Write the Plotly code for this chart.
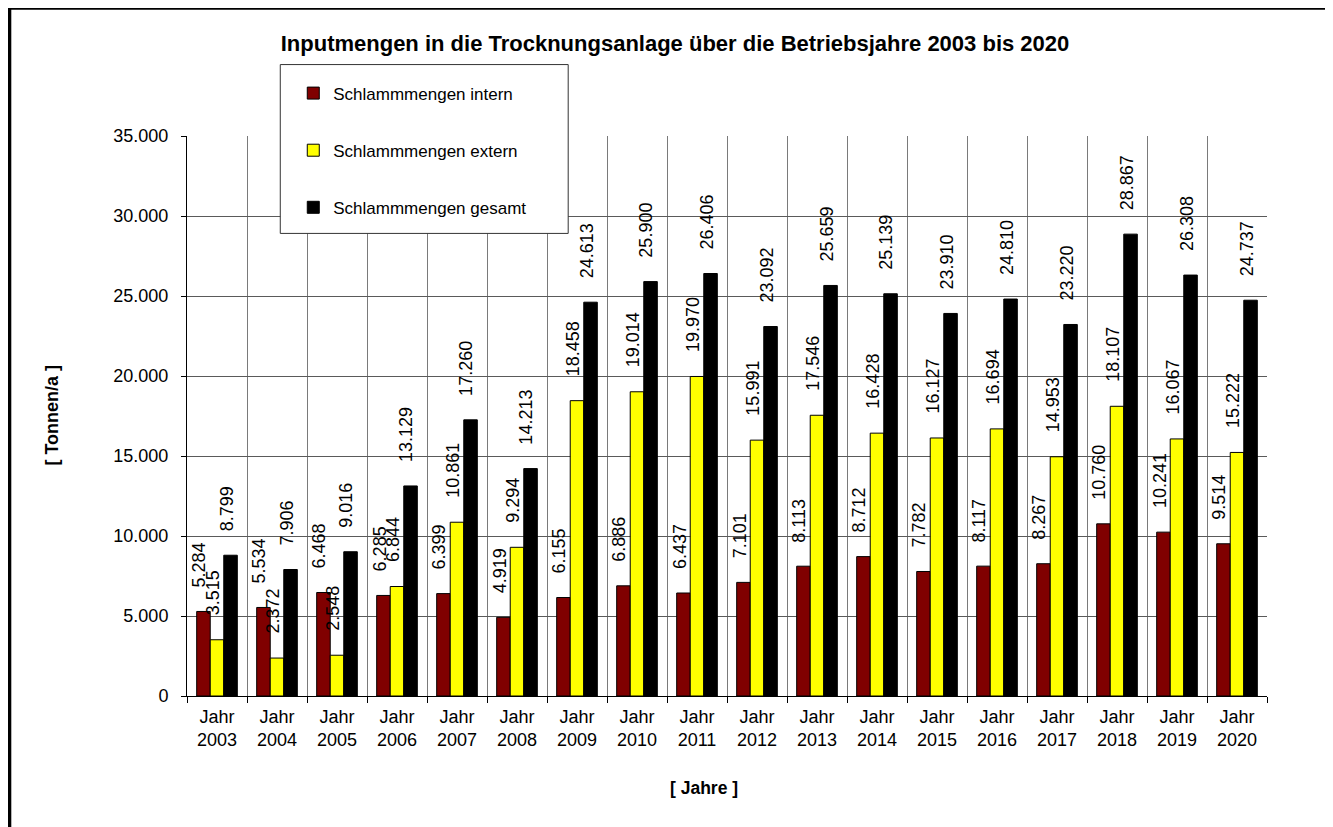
import plotly.graph_objects as go

jahre = ["Jahr<br>2003", "Jahr<br>2004", "Jahr<br>2005", "Jahr<br>2006", "Jahr<br>2007", "Jahr<br>2008",
         "Jahr<br>2009", "Jahr<br>2010", "Jahr<br>2011", "Jahr<br>2012", "Jahr<br>2013", "Jahr<br>2014",
         "Jahr<br>2015", "Jahr<br>2016", "Jahr<br>2017", "Jahr<br>2018", "Jahr<br>2019", "Jahr<br>2020"]
intern = [5284, 5534, 6468, 6285, 6399, 4919, 6155, 6886, 6437, 7101, 8113, 8712, 7782, 8117, 8267, 10760, 10241, 9514]
extern = [3515, 2372, 2548, 6844, 10861, 9294, 18458, 19014, 19970, 15991, 17546, 16428, 16127, 16694, 14953, 18107, 16067, 15222]
gesamt = [8799, 7906, 9016, 13129, 17260, 14213, 24613, 25900, 26406, 23092, 25659, 25139, 23910, 24810, 23220, 28867, 26308, 24737]
y_ticks = [0, 5000, 10000, 15000, 20000, 25000, 30000, 35000]

series = [
    ("Schlammmengen intern", intern, "#800000"),
    ("Schlammmengen extern", extern, "#FFFF00"),
    ("Schlammmengen gesamt", gesamt, "#000000"),
]

FONT = "Liberation Sans, Arial, sans-serif"
OFF = 8  # page body margin
# plot area in page coordinates
PL, PR, PT, PB = 186.7, 1267.0, 135.5, 696.0
W, H = 1333, 827
BARGAP = 0.323
cat_w = (PR - PL) / len(jahre)
bar_w = cat_w * (1 - BARGAP) / 3


def px(x):
    return (x - PL) / (PR - PL)


def py(y):
    return (PB - y) / (PB - PT)


def fmt(v):
    return f"{v:,}".replace(",", ".")


fig = go.Figure()
annotations = []
for i, (name, vals, col) in enumerate(series):
    fig.add_trace(go.Bar(
        x=jahre, y=vals, name=name, legendgroup=name,
        marker=dict(color=col, line=dict(color="black", width=1)),
    ))
    for xc, v in zip(jahre, vals):
        annotations.append(dict(
            x=xc, y=v, xref="x", yref="y", text=fmt(v), textangle=-90,
            showarrow=False, xanchor="center", yanchor="bottom",
            xshift=(i - 1) * bar_w - 4, yshift=22,
            font=dict(family=FONT, size=18, color="black"),
        ))

annotations += [
    dict(text="<b>[ Tonnen/a ]</b>", x=px(40), y=py(415), xref="paper", yref="paper",
         textangle=-90, showarrow=False, font=dict(family=FONT, size=18, color="black")),
    dict(text="<b>[ Jahre ]</b>", x=px(704), y=py(800), xref="paper", yref="paper",
         showarrow=False, font=dict(family=FONT, size=17.5, color="black")),
]

fig.update_layout(
    width=W, height=H,
    margin=dict(l=PL - OFF, r=W - (PR - OFF), t=PT - OFF, b=H - (PB - OFF)),
    paper_bgcolor="white", plot_bgcolor="white",
    separators=",.",
    barmode="group", bargap=BARGAP, bargroupgap=0,
    font=dict(family=FONT, size=18, color="black"),
    title=dict(text="<b>Inputmengen in die Trocknungsanlage über die Betriebsjahre 2003 bis 2020</b>",
               x=(675 - OFF) / W, xref="container", xanchor="center",
               y=1 - (43 - OFF) / H, yref="container", yanchor="middle",
               font=dict(family=FONT, size=22, color="black")),
    showlegend=True,
    legend=dict(x=px(293), y=py(75), xanchor="left", yanchor="top",
                bgcolor="rgba(0,0,0,0)", borderwidth=0,
                traceorder="grouped", tracegroupgap=32,
                font=dict(family=FONT, size=17, color="black")),
    xaxis=dict(type="category", tickson="boundaries", ticks="outside", ticklen=6, tickcolor="black",
               showgrid=True, gridcolor="#7a7a7a", gridwidth=1,
               showline=True, linecolor="black", linewidth=1, ticklabelstandoff=4,
               tickfont=dict(family=FONT, size=18)),
    yaxis=dict(range=[0, 35000], tickvals=y_ticks, tickformat=",d", ticks="outside", ticklen=5,
               tickcolor="black", showgrid=True, gridcolor="#5a5a5a", gridwidth=1,
               showline=True, linecolor="black", linewidth=1, zeroline=False,
               ticklabelstandoff=9, tickfont=dict(family=FONT, size=18)),
    annotations=annotations,
    shapes=[
        dict(type="rect", xref="paper", yref="paper", x0=px(9.2), x1=px(1350), y0=py(850), y1=py(7.3),
             line=dict(color="black", width=3.5), layer="below"),
        dict(type="rect", xref="paper", yref="paper", x0=px(280), x1=px(568), y0=py(233), y1=py(64),
             line=dict(color="#333333", width=1), fillcolor="white", layer="above"),
    ],
)

fig.write_html("out.html")
